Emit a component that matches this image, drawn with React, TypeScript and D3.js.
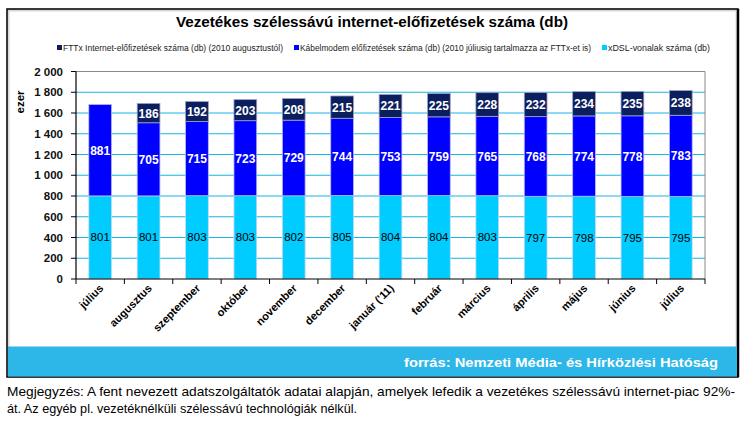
import React from "react";
import * as d3 from "d3";

const months = ["július", "augusztus", "szeptember", "október", "november", "december", "január ('11)", "február", "március", "április", "május", "június", "július"];
const xdsl = [801, 801, 803, 803, 802, 805, 804, 804, 803, 797, 798, 795, 795];
const cable = [881, 705, 715, 723, 729, 744, 753, 759, 765, 768, 774, 778, 783];
const fttx: (number | null)[] = [null, 186, 192, 203, 208, 215, 221, 225, 228, 232, 234, 235, 238];
const yTicks = [0, 200, 400, 600, 800, 1000, 1200, 1400, 1600, 1800, 2000];
const legendLabels = [
  "FTTx  Internet-előfizetések száma (db) (2010 augusztustól)",
  "Kábelmodem előfizetések száma (db) (2010 júliusig tartalmazza az FTTx-et is)",
  "xDSL-vonalak száma (db)",
];

const C_XDSL = "#00CCFF";
const C_CABLE = "#0000FF";
const C_FTTX = "#0B1F5E";
const GRID = "#19B4E6";
const FONT = "Liberation Sans, Arial, sans-serif";

export default function App() {
  const W = 748, H = 425;
  const left = 76, right = 705, top = 71.5, bottom = 279;
  const x = d3.scaleBand<number>().domain(d3.range(months.length)).range([left, right]).paddingInner(0.53).paddingOuter(0.265);
  const y = d3.scaleLinear().domain([0, 2000]).range([bottom, top]);
  const fmt = (v: number) => d3.format(",")(v).replace(/,/g, " ");
  const step = (right - left) / months.length;
  const legendX = [57, 294, 602];
  const legendLen = [220, 291, 102];

  return (
    <svg width={W} height={H} style={{ position: "absolute", left: 0, top: 0, fontFamily: FONT }}>
      <rect x={0} y={0} width={W} height={H} fill="#fff" />
      {/* outer frame */}
      <rect x={8} y={10} width={729} height={366} fill="#fff" stroke="#d8d8d8" strokeWidth={3} />
      <rect x={7} y={9} width={731} height={368} fill="none" stroke="#000" strokeWidth={1.5} />
      <line x1={738} x2={738} y1={9} y2={377} stroke="#000" strokeWidth={2.5} />
      <rect x={8} y={346.5} width={729} height={30} fill="#2DB6E8" />
      <text x={718} y={367} textAnchor="end" fill="#fff" fontWeight="bold" fontSize={13.5} textLength={314} lengthAdjust="spacingAndGlyphs">forrás: Nemzeti Média- és Hírközlési Hatóság</text>

      {/* title */}
      <text x={372} y={27} textAnchor="middle" fontWeight="bold" fontSize={15.5} fill="#000" textLength={392} lengthAdjust="spacingAndGlyphs">Vezetékes szélessávú internet-előfizetések száma (db)</text>

      {/* legend */}
      {[C_FTTX, C_CABLE, C_XDSL].map((c, i) => (
        <g key={i}>
          <rect x={legendX[i]} y={45} width={5} height={5} fill={c} />
          <text x={legendX[i] + 6} y={50.5} fontSize={8.3} fill="#222" textLength={legendLen[i]} lengthAdjust="spacingAndGlyphs">{legendLabels[i]}</text>
        </g>
      ))}

      {/* gridlines */}
      {yTicks.filter(t => t > 0).map(t => (
        <line key={t} x1={left} x2={right} y1={y(t)} y2={y(t)} stroke={GRID} strokeWidth={1.2} />
      ))}
      {/* plot border top/right */}
      <line x1={left} x2={right} y1={top} y2={top} stroke="#888" />
      <line x1={right} x2={right} y1={top} y2={bottom} stroke="#888" />

      {/* bars */}
      {months.map((m, i) => {
        const bx = x(i)!;
        const bw = x.bandwidth();
        const y0 = y(0), y1 = y(xdsl[i]), y2 = y(xdsl[i] + cable[i]);
        const f = fttx[i];
        const y3 = f != null ? y(xdsl[i] + cable[i] + f) : y2;
        const cx = bx + bw / 2;
        return (
          <g key={i}>
            <rect x={bx} y={y1} width={bw} height={y0 - y1} fill={C_XDSL} stroke="#c8d8f0" strokeWidth={0.8} />
            <rect x={bx} y={y2} width={bw} height={y1 - y2} fill={C_CABLE} stroke="#b8b8f0" strokeWidth={0.8} />
            {f != null && <rect x={bx} y={y3} width={bw} height={y2 - y3} fill={C_FTTX} stroke="#a0a0c0" strokeWidth={0.8} />}
            <text x={cx} y={(y0 + y1) / 2 + 4} textAnchor="middle" fontSize={11.5} fill="#000">{xdsl[i]}</text>
            <text x={cx} y={(y1 + y2) / 2 + 4.5} textAnchor="middle" fontSize={12} fontWeight="bold" fill="#fff">{cable[i]}</text>
            {f != null && <text x={cx} y={(y2 + y3) / 2 + 4.5} textAnchor="middle" fontSize={12} fontWeight="bold" fill="#fff">{f}</text>}
          </g>
        );
      })}

      {/* axes */}
      <line x1={left} x2={left} y1={top} y2={bottom} stroke="#000" strokeWidth={1.2} />
      <line x1={left} x2={right} y1={bottom} y2={bottom} stroke="#000" strokeWidth={1.2} />
      {yTicks.map(t => (
        <g key={t}>
          <line x1={left - 5} x2={left} y1={y(t)} y2={y(t)} stroke="#000" />
          <text x={63} y={y(t) + 4} textAnchor="end" fontSize={11.5} fontWeight="bold" fill="#111">{fmt(t)}</text>
        </g>
      ))}
      {d3.range(months.length + 1).map(i => (
        <line key={i} x1={left + i * step} x2={left + i * step} y1={bottom} y2={bottom + 5} stroke="#000" />
      ))}
      {months.map((m, i) => {
        const cx = x(i)! + x.bandwidth() / 2 + 4;
        return (
          <text key={i} transform={`translate(${cx},${289}) rotate(-45)`} textAnchor="end" fontSize={11} fontWeight="bold" fill="#000">{m}</text>
        );
      })}
      <text transform={`translate(24,102) rotate(-90)`} textAnchor="middle" fontSize={11.5} fontWeight="bold" fill="#000">ezer</text>

      {/* note */}
      <text x={7} y={396} fontSize={13.4} fill="#000" textLength={728} lengthAdjust="spacingAndGlyphs">Megjegyzés: A fent nevezett adatszolgáltatók adatai alapján, amelyek lefedik a vezetékes szélessávú internet-piac 92%-</text>
      <text x={7} y={413} fontSize={13.4} fill="#000" textLength={350} lengthAdjust="spacingAndGlyphs">át. Az egyéb pl. vezetéknélküli szélessávú technológiák nélkül.</text>
    </svg>
  );
}
